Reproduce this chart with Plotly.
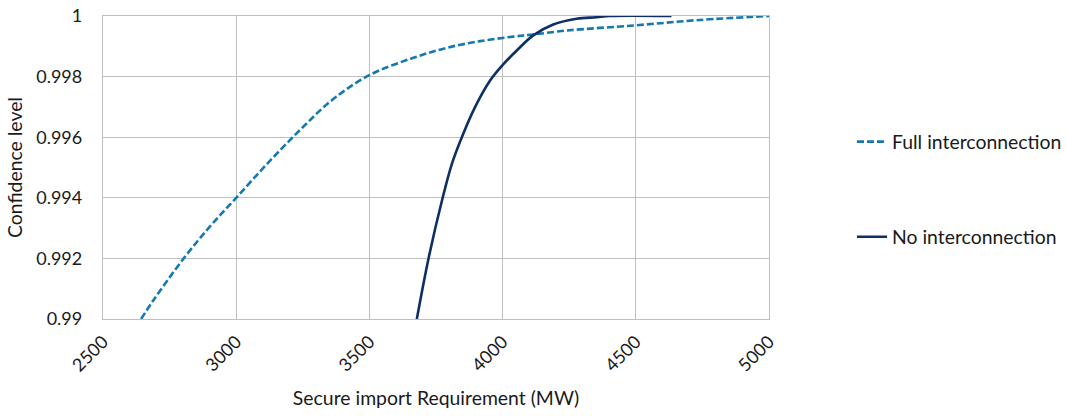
import plotly.graph_objects as go

# Data
full_x = [2643, 2690, 2803, 2903, 3000, 3116, 3241, 3359, 3498, 3665, 3791, 3916, 4040, 4115, 4241, 4497, 4741, 5000]
full_y = [0.9900, 0.99063, 0.9920, 0.99307, 0.9940, 0.99512, 0.99625, 0.99722, 0.99804, 0.99862, 0.99895, 0.99917, 0.99932, 0.99939, 0.99952, 0.99969, 0.99987, 1.0000]

none_x = [3678, 3722, 3775, 3810, 3847, 3897, 3953, 3999, 4053, 4115, 4190, 4278, 4353, 4403, 4634]
none_y = [0.9900, 0.9920, 0.9940, 0.99513, 0.9960, 0.9970, 0.99787, 0.99837, 0.99886, 0.99936, 0.99972, 0.99991, 0.99996, 1.0000, 1.0000]

x_ticks = [2500, 3000, 3500, 4000, 4500, 5000]
x_ticktext = ["2500", "3000", "3500", "4000", "4500", "5000"]
y_ticks = [0.99, 0.992, 0.994, 0.996, 0.998, 1.0]
y_ticktext = ["0.99", "0.992", "0.994", "0.996", "0.998", "1"]

FONT = "Lato"
FS_TICK = 18
FS_TITLE = 19.4
GRID = "#bfbfbf"
TXT = "#1a1a1a"

fig = go.Figure()
fig.add_trace(go.Scatter(
    x=full_x, y=full_y, mode="lines", name="Full interconnection",
    line=dict(color="#1479b0", width=2.6, dash="7px,3px", shape="spline", smoothing=1.0),
    legendgroup="a",
))
fig.add_trace(go.Scatter(
    x=none_x, y=none_y, mode="lines", name="No interconnection",
    line=dict(color="#0c2f66", width=2.6, shape="spline", smoothing=1.0),
    legendgroup="b",
))

fig.update_layout(
    width=1067, height=417,
    margin=dict(l=103, r=298, t=16, b=98, autoexpand=False),
    paper_bgcolor="white", plot_bgcolor="white",
    font=dict(family=FONT, size=FS_TICK, color=TXT),
    showlegend=True,
    legend=dict(
        xref="container", yref="container",
        x=0.7985, y=0.5456, xanchor="left", yanchor="middle",
        tracegroupgap=67, font=dict(family=FONT, size=FS_TITLE, color=TXT),
        bgcolor="rgba(0,0,0,0)",
    ),
    xaxis=dict(
        range=[2500, 5000], tickvals=x_ticks, ticktext=x_ticktext, tickangle=-45,
        showgrid=True, gridcolor=GRID, gridwidth=1.3,
        showline=True, linecolor=GRID, linewidth=1.3, mirror=True,
        ticks="outside", ticklen=4, tickcolor="rgba(0,0,0,0)",
        zeroline=False, automargin=False,
        title=dict(text="Secure import Requirement (MW)", standoff=16,
                   font=dict(family=FONT, size=FS_TITLE, color=TXT)),
    ),
    yaxis=dict(
        range=[0.99, 1.0], tickvals=y_ticks, ticktext=y_ticktext,
        showgrid=True, gridcolor=GRID, gridwidth=1.3,
        showline=True, linecolor=GRID, linewidth=1.3, mirror=True,
        ticks="outside", ticklen=16, tickcolor="rgba(0,0,0,0)",
        zeroline=False, automargin=False,
        title=dict(text="Confidence level", standoff=8,
                   font=dict(family=FONT, size=FS_TITLE, color=TXT)),
    ),
)

fig.write_html("out.html")
